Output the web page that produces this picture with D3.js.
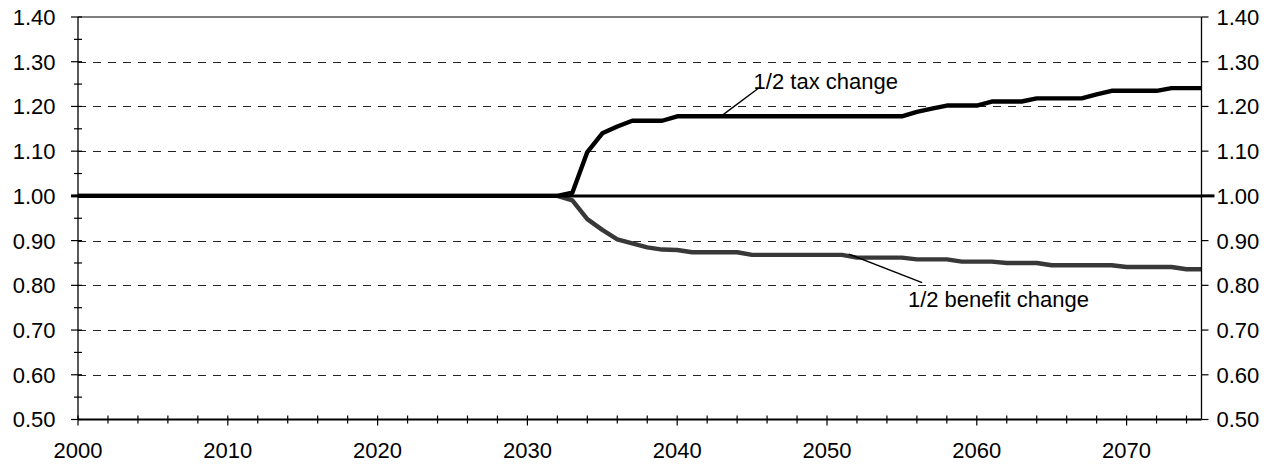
<!DOCTYPE html>
<html>
<head>
<meta charset="utf-8">
<script src="https://cdn.jsdelivr.net/npm/d3@7"></script>
<style>
  html, body { margin: 0; padding: 0; background: #fff; }
  svg { display: block; }
  text { font-family: "Liberation Sans", Arial, sans-serif; fill: #000; }
</style>
</head>
<body>
<svg id="chart" width="1276" height="467"></svg>
<script>
// ---- data ----
const years = [
  2000,2001,2002,2003,2004,2005,2006,2007,2008,2009,
  2010,2011,2012,2013,2014,2015,2016,2017,2018,2019,
  2020,2021,2022,2023,2024,2025,2026,2027,2028,2029,
  2030,2031,2032,2033,2034,2035,2036,2037,2038,2039,
  2040,2041,2042,2043,2044,2045,2046,2047,2048,2049,
  2050,2051,2052,2053,2054,2055,2056,2057,2058,2059,
  2060,2061,2062,2063,2064,2065,2066,2067,2068,2069,
  2070,2071,2072,2073,2074,2075
];
const baseline = [
  1.00,1.00,1.00,1.00,1.00,1.00,1.00,1.00,1.00,1.00,
  1.00,1.00,1.00,1.00,1.00,1.00,1.00,1.00,1.00,1.00,
  1.00,1.00,1.00,1.00,1.00,1.00,1.00,1.00,1.00,1.00,
  1.00,1.00,1.00,1.00,1.00,1.00,1.00,1.00,1.00,1.00,
  1.00,1.00,1.00,1.00,1.00,1.00,1.00,1.00,1.00,1.00,
  1.00,1.00,1.00,1.00,1.00,1.00,1.00,1.00,1.00,1.00,
  1.00,1.00,1.00,1.00,1.00,1.00,1.00,1.00,1.00,1.00,
  1.00,1.00,1.00,1.00,1.00,1.00
];
const taxChange = [
  1.00,1.00,1.00,1.00,1.00,1.00,1.00,1.00,1.00,1.00,
  1.00,1.00,1.00,1.00,1.00,1.00,1.00,1.00,1.00,1.00,
  1.00,1.00,1.00,1.00,1.00,1.00,1.00,1.00,1.00,1.00,
  1.00,1.00,1.00,1.007,1.098,1.140,1.155,1.168,1.168,1.168,
  1.178,1.178,1.178,1.178,1.178,1.178,1.178,1.178,1.178,1.178,
  1.178,1.178,1.178,1.178,1.178,1.178,1.188,1.195,1.202,1.202,
  1.202,1.211,1.211,1.211,1.218,1.218,1.218,1.218,1.227,1.235,
  1.235,1.235,1.235,1.241,1.241,1.241
];
const benefitChange = [
  1.00,1.00,1.00,1.00,1.00,1.00,1.00,1.00,1.00,1.00,
  1.00,1.00,1.00,1.00,1.00,1.00,1.00,1.00,1.00,1.00,
  1.00,1.00,1.00,1.00,1.00,1.00,1.00,1.00,1.00,1.00,
  1.00,1.00,1.00,0.990,0.948,0.924,0.903,0.894,0.885,0.880,
  0.879,0.874,0.874,0.874,0.874,0.868,0.868,0.868,0.868,0.868,
  0.868,0.868,0.862,0.862,0.862,0.862,0.858,0.858,0.858,0.853,
  0.853,0.853,0.850,0.850,0.850,0.845,0.845,0.845,0.845,0.845,
  0.841,0.841,0.841,0.841,0.836,0.836
];
const yTicks = [0.50,0.60,0.70,0.80,0.90,1.00,1.10,1.20,1.30,1.40];
const yMinorTicks = [0.55,0.65,0.75,0.85,0.95,1.05,1.15,1.25,1.35];
const xTicks = [2000,2010,2020,2030,2040,2050,2060,2070];
const xMinorTicks = [2002,2004,2006,2008,2012,2014,2016,2018,2022,2024,2026,2028,
  2032,2034,2036,2038,2042,2044,2046,2048,2052,2054,2056,2058,2062,2064,2066,2068,2072,2074];
const labels = [
  {text: "1/2 tax change", tx: 2045.1, ty: 1.239, x1: 2043.0, y1: 1.180, x2: 2045.4, y2: 1.240},
  {text: "1/2 benefit change", tx: 2055.4, ty: 0.752, x1: 2051.45, y1: 0.870, x2: 2056.35, y2: 0.806}
];

// ---- layout ----
const svg = d3.select("#chart");
const L = 78, R = 1201.5, T = 17, B = 419.5;
const x = d3.scaleLinear().domain([2000, 2075]).range([L, R]);
const y = d3.scaleLinear().domain([0.5, 1.4]).range([B, T]);
const fs = 22;

// gridlines
svg.append("g").selectAll("line")
  .data(yTicks.filter(v => v > 0.5 && v < 1.4 && Math.abs(v - 1.0) > 1e-6))
  .join("line")
  .attr("x1", L).attr("x2", R)
  .attr("y1", d => Math.round(y(d)) + 0.5).attr("y2", d => Math.round(y(d)) + 0.5)
  .attr("stroke", "#222").attr("stroke-width", 1)
  .attr("stroke-dasharray", "8,7");

// plot box top
svg.append("line").attr("x1", L).attr("x2", R).attr("y1", y(1.4)).attr("y2", y(1.4))
  .attr("stroke", "#000").attr("stroke-width", 1.2);

// series
const line = d3.line().x((d, i) => x(years[i])).y(d => y(d));
svg.append("path").datum(benefitChange).attr("d", line)
  .attr("fill", "none").attr("stroke", "#383838").attr("stroke-width", 4.4)
  .attr("stroke-linejoin", "round");
svg.append("path").datum(baseline).attr("d", line)
  .attr("fill", "none").attr("stroke", "#000").attr("stroke-width", 3);
svg.append("path").datum(taxChange).attr("d", line)
  .attr("fill", "none").attr("stroke", "#000").attr("stroke-width", 4.4)
  .attr("stroke-linejoin", "round");

const isOne = d => Math.abs(d - 1.0) < 1e-6;

// left axis
const axL = svg.append("g");
axL.append("line").attr("x1", L).attr("x2", L).attr("y1", T).attr("y2", B)
  .attr("stroke", "#000").attr("stroke-width", 1.3);
axL.selectAll("line.maj").data(yTicks).join("line").attr("class", "maj")
  .attr("x1", L - 7).attr("x2", L + 4).attr("y1", d => y(d)).attr("y2", d => y(d))
  .attr("stroke", "#000").attr("stroke-width", d => isOne(d) ? 3 : 1.2);
axL.selectAll("line.min").data(yMinorTicks).join("line").attr("class", "min")
  .attr("x1", L - 4).attr("x2", L + 4).attr("y1", d => y(d)).attr("y2", d => y(d))
  .attr("stroke", "#000").attr("stroke-width", 1.2);
axL.selectAll("text").data(yTicks).join("text")
  .attr("x", 55.5).attr("y", d => y(d)).attr("dy", "0.36em")
  .attr("text-anchor", "end").attr("font-size", fs)
  .text(d => d3.format(".2f")(d));

// right axis
const axR = svg.append("g");
axR.append("line").attr("x1", R).attr("x2", R).attr("y1", T).attr("y2", B)
  .attr("stroke", "#000").attr("stroke-width", 1.3);
axR.selectAll("line.maj").data(yTicks).join("line").attr("class", "maj")
  .attr("x1", R).attr("x2", d => isOne(d) ? R + 13 : R + 7)
  .attr("y1", d => y(d)).attr("y2", d => y(d))
  .attr("stroke", "#000").attr("stroke-width", d => isOne(d) ? 3 : 1.2);
axR.selectAll("text").data(yTicks).join("text")
  .attr("x", R + 15).attr("y", d => y(d)).attr("dy", "0.36em")
  .attr("text-anchor", "start").attr("font-size", fs)
  .text(d => d3.format(".2f")(d));

// bottom axis
const axB = svg.append("g");
axB.append("line").attr("x1", L).attr("x2", R).attr("y1", B).attr("y2", B)
  .attr("stroke", "#000").attr("stroke-width", 1.8);
axB.selectAll("line.maj").data(xTicks).join("line").attr("class", "maj")
  .attr("x1", d => x(d)).attr("x2", d => x(d)).attr("y1", B - 4).attr("y2", B + 6)
  .attr("stroke", "#000").attr("stroke-width", 1.2);
axB.selectAll("line.min").data(xMinorTicks).join("line").attr("class", "min")
  .attr("x1", d => x(d)).attr("x2", d => x(d)).attr("y1", B - 4).attr("y2", B + 4)
  .attr("stroke", "#000").attr("stroke-width", 1.2);
axB.selectAll("text").data(xTicks).join("text")
  .attr("x", d => x(d)).attr("y", 458)
  .attr("text-anchor", "middle").attr("font-size", fs)
  .text(d => d);

// annotations
const ann = svg.append("g");
ann.selectAll("line").data(labels).join("line")
  .attr("x1", d => x(d.x1)).attr("y1", d => y(d.y1))
  .attr("x2", d => x(d.x2)).attr("y2", d => y(d.y2))
  .attr("stroke", "#000").attr("stroke-width", 1.4);
ann.selectAll("text").data(labels).join("text")
  .attr("x", d => x(d.tx)).attr("y", d => y(d.ty))
  .attr("font-size", fs)
  .text(d => d.text);
</script>
</body>
</html>
